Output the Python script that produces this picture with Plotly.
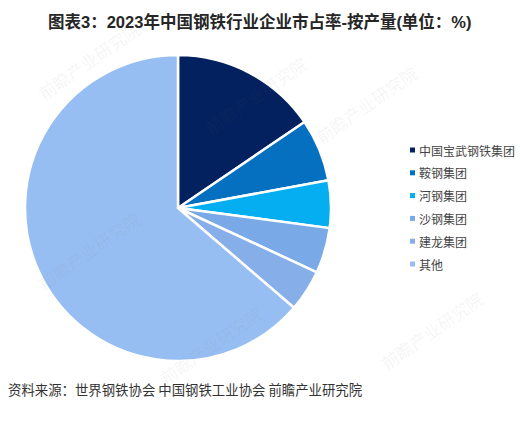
import plotly.graph_objects as go

companies = ['中国宝武钢铁集团', '鞍钢集团', '河钢集团', '沙钢集团', '建龙集团', '其他']
shares = [15.5, 6.6, 5.0, 4.8, 4.4, 63.7]
colors = ['#03215E', '#0670C0', '#04AEF0', '#7AA9E8', '#86AFEA', '#97BEF2']

title_text = '图表3：2023年中国钢铁行业企业市占率-按产量(单位：%)'
source_text = '资料来源：世界钢铁协会 中国钢铁工业协会 前瞻产业研究院'
watermark_text = '前瞻产业研究院'

W = 520
H = 422
CJK = 'Noto Sans CJK SC'

fig = go.Figure(go.Pie(
    labels=companies,
    values=shares,
    sort=False,
    direction='clockwise',
    rotation=0,
    textinfo='none',
    hoverinfo='label+percent',
    showlegend=False,
    marker=dict(colors=colors, line=dict(color='white', width=2.5)),
    domain=dict(x=[25 / W, 331 / W], y=[1 - 361 / H, 1 - 55 / H]),
))

annotations = [
    dict(text='<b>' + title_text + '</b>', x=260 / W, y=1 - 21 / H,
         font=dict(family='Liberation Sans, ' + CJK, size=16.5, color='#262626')),
    dict(text=source_text, x=6 / W, y=1 - 389 / H, xanchor='left',
         font=dict(family=CJK, size=13.4, color='#333333')),
]
shapes = []

# hand drawn legend, the small squares sit close to the text
for i, name in enumerate(companies):
    cy = 150 + i * 22.8
    annotations.append(dict(text=name, x=417 / W, y=1 - cy / H, xanchor='left',
                            font=dict(family=CJK, size=12, color='#444444')))
    shapes.append(dict(type='rect', xref='paper', yref='paper',
                       x0=410 / W, x1=415 / W, y0=1 - (cy + 2.5) / H, y1=1 - (cy - 2.5) / H,
                       fillcolor=colors[i], line_width=0))

# faint watermarks over the picture
for wx, wy in [(210, 345), (255, 95), (30, 250), (425, 105), (490, 330), (30, 60)]:
    annotations.append(dict(text=watermark_text, x=wx / W, y=1 - wy / H, textangle=-35,
                            font=dict(family=CJK, size=17, color='rgba(110,110,110,0.08)')))

for a in annotations:
    a.update(xref='paper', yref='paper', showarrow=False, yanchor='middle')

fig.update_layout(
    width=W,
    height=H,
    margin=dict(l=0, r=0, t=0, b=0),
    paper_bgcolor='white',
    annotations=annotations,
    shapes=shapes,
)

fig.write_html('out.html', config={'displayModeBar': False},
               post_script="document.body.style.margin='0';")
